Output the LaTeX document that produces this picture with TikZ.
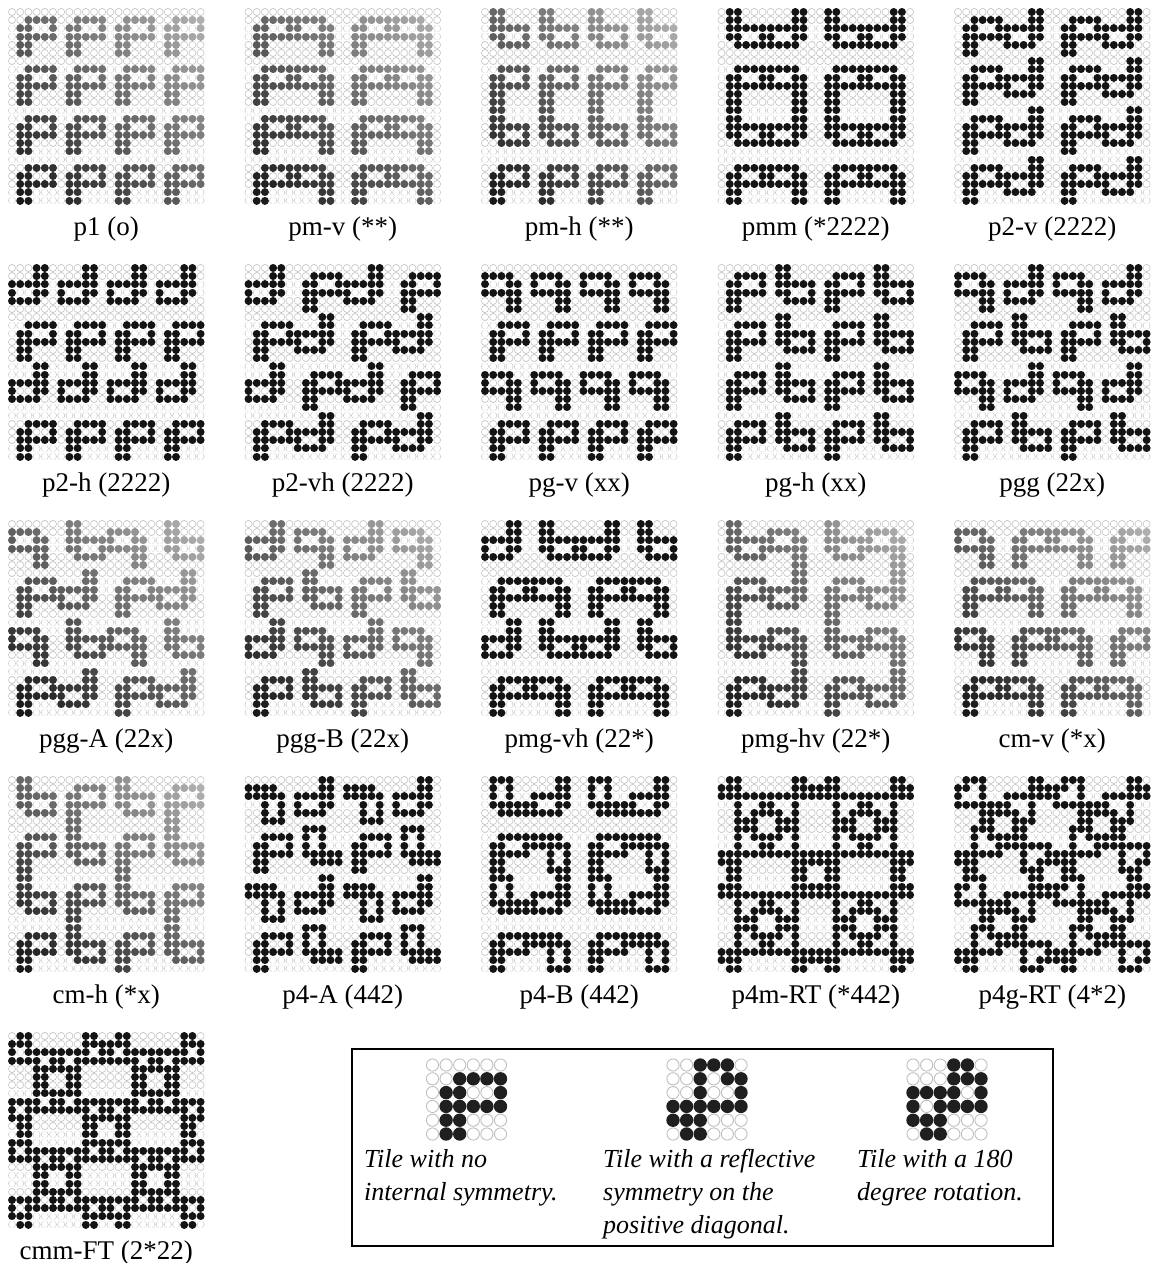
\documentclass[tikz,border=0pt]{standalone}
\usepackage{fontspec}
\setmainfont{Liberation Serif}

\tikzset{
  ringout/.style={line width=7.75pt, line cap=round, draw=black!22},
  ringin/.style={line width=6.25pt, line cap=round, draw=white},
  dotink/.style={line width=7.9pt, line cap=round},
  dotoff/.style={draw=black!25, line width=0.9pt, fill=white},
  paneltitle/.style={font=\fontsize{27}{30}\selectfont, anchor=center},
  legendtext/.style={font=\fontsize{26}{33}\selectfont\itshape, align=left, anchor=north west, inner sep=0pt},
}

% 6x6 tiles, row by row
\def\tileF{{0,0,0,0,0,0, 0,0,1,1,1,1, 0,1,1,0,0,1, 0,1,1,1,1,1, 0,1,1,0,0,0, 0,1,1,0,0,0}}
\def\tileR{{0,0,1,1,1,0, 0,0,1,0,1,1, 0,0,1,0,0,1, 1,1,1,1,1,1, 1,1,1,0,0,0, 0,1,1,0,0,0}}
\def\tileT{{0,0,0,1,1,0, 0,0,0,1,1,1, 1,1,1,1,0,1, 1,0,1,1,1,1, 1,1,1,0,0,0, 0,1,1,0,0,0}}

% where dot (i,j) of a placed tile comes from
% 0 id, 1 mirror lr, 2 mirror tb, 3 half turn, 4 quarter cw, 5 quarter ccw
\newcommand\tilesrc[3]{%
  \ifcase#1\relax
    \edef\si{#2}\edef\sj{#3}%
  \or \edef\si{#2}\edef\sj{\the\numexpr5-#3\relax}%
  \or \edef\si{\the\numexpr5-#2\relax}\edef\sj{#3}%
  \or \edef\si{\the\numexpr5-#2\relax}\edef\sj{\the\numexpr5-#3\relax}%
  \or \edef\si{\the\numexpr5-#3\relax}\edef\sj{#2}%
  \or \edef\si{#3}\edef\sj{\the\numexpr5-#2\relax}%
  \fi}

% #1 x, #2 y, #3 tile, #4 placement codes, #5 fading, #6 name, #7 label
\newcommand\wallpanel[7]{%
  % empty rings, one path per dot row
  \foreach \r in {0,...,23}{
    \draw[ringout] \foreach \c in {0,...,23}{({#1+8.2*\c},{#2+8.2*\r}) -- ++(0.01,0)};
    \draw[ringin] \foreach \c in {0,...,23}{({#1+8.2*\c},{#2+8.2*\r}) -- ++(0.01,0)};
  }
  % the tiles
  \foreach \tr in {0,...,3}{
    \foreach \tc in {0,...,3}{
      \pgfmathtruncatemacro\code{#4[4*\tr+\tc]}
      \foreach \i in {0,...,5}{
        \foreach \j in {0,...,5}{
          \tilesrc\code\i\j
          \pgfmathtruncatemacro\bit{#3[6*\si+\sj]}
          \ifnum\bit=1
            \pgfmathsetmacro\dx{#1+8.2*(6*\tc+\j)}
            \pgfmathsetmacro\dy{#2+8.2*(6*\tr+\i)}
            \pgfmathsetmacro\ink{92-#5*62*(6*\tc+\j+23-6*\tr-\i)/46}
            \draw[dotink, draw=black!\ink] (\dx,\dy) -- ++(0.01,0);
          \fi
        }
      }
    }
  }
  \node[paneltitle] (#6) at (#1+94.3,#2+217) {#7};
}

\newcommand\legendtile[3]{%
  \foreach \i in {0,...,5}{
    \foreach \j in {0,...,5}{
      \pgfmathtruncatemacro\bit{#3[6*\i+\j]}
      \ifnum\bit=1
        \fill[black!88] (#1+13.6*\j,#2+13.8*\i) circle (6.7pt);
      \else
        \draw[dotoff] (#1+13.6*\j,#2+13.8*\i) circle (6.1pt);
      \fi
    }
  }
}

\begin{document}
\begin{tikzpicture}[x=1pt,y=-1pt]
  \useasboundingbox (0,0) rectangle (1159,1263);

  % first row
  \wallpanel{12}{12}{\tileF}{{0,0,0,0, 0,0,0,0, 0,0,0,0, 0,0,0,0}}{1}{p1}{p1 (o)}
  \wallpanel{248.5}{12}{\tileF}{{0,1,0,1, 0,1,0,1, 0,1,0,1, 0,1,0,1}}{1}{pmv}{pm-v (**)}
  \wallpanel{485}{12}{\tileF}{{2,2,2,2, 0,0,0,0, 2,2,2,2, 0,0,0,0}}{1}{pmh}{pm-h (**)}
  \wallpanel{721.5}{12}{\tileF}{{2,3,2,3, 0,1,0,1, 2,3,2,3, 0,1,0,1}}{0}{pmm}{pmm (*2222)}
  \wallpanel{958}{12}{\tileF}{{0,3,0,3, 0,3,0,3, 0,3,0,3, 0,3,0,3}}{0}{p2v}{p2-v (2222)}

  % second row
  \wallpanel{12}{268}{\tileF}{{3,3,3,3, 0,0,0,0, 3,3,3,3, 0,0,0,0}}{0}{p2h}{p2-h (2222)}
  \wallpanel{248.5}{268}{\tileF}{{3,0,3,0, 0,3,0,3, 3,0,3,0, 0,3,0,3}}{0}{p2vh}{p2-vh (2222)}
  \wallpanel{485}{268}{\tileF}{{1,1,1,1, 0,0,0,0, 1,1,1,1, 0,0,0,0}}{0}{pgv}{pg-v (xx)}
  \wallpanel{721.5}{268}{\tileF}{{0,2,0,2, 0,2,0,2, 0,2,0,2, 0,2,0,2}}{0}{pgh}{pg-h (xx)}
  \wallpanel{958}{268}{\tileF}{{1,3,1,3, 0,2,0,2, 1,3,1,3, 0,2,0,2}}{0}{pgg}{pgg (22x)}

  % third row
  \wallpanel{12}{524}{\tileF}{{1,2,1,2, 0,3,0,3, 1,2,1,2, 0,3,0,3}}{1}{pgga}{pgg-A (22x)}
  \wallpanel{248.5}{524}{\tileF}{{3,1,3,1, 0,2,0,2, 3,1,3,1, 0,2,0,2}}{1}{pggb}{pgg-B (22x)}
  \wallpanel{485}{524}{\tileF}{{3,2,3,2, 0,1,0,1, 3,2,3,2, 0,1,0,1}}{0}{pmgvh}{pmg-vh (22*)}
  \wallpanel{721.5}{524}{\tileF}{{2,1,2,1, 0,3,0,3, 2,1,2,1, 0,3,0,3}}{1}{pmghv}{pmg-hv (22*)}
  \wallpanel{958}{524}{\tileF}{{1,0,1,0, 0,1,0,1, 1,0,1,0, 0,1,0,1}}{1}{cmv}{cm-v (*x)}

  % fourth row
  \wallpanel{12}{780}{\tileF}{{2,0,2,0, 0,2,0,2, 2,0,2,0, 0,2,0,2}}{1}{cmh}{cm-h (*x)}
  \wallpanel{248.5}{780}{\tileF}{{4,3,4,3, 0,5,0,5, 4,3,4,3, 0,5,0,5}}{0}{p4a}{p4-A (442)}
  \wallpanel{485}{780}{\tileF}{{5,3,5,3, 0,4,0,4, 5,3,5,3, 0,4,0,4}}{0}{p4b}{p4-B (442)}
  \wallpanel{721.5}{780}{\tileR}{{4,3,4,3, 0,5,0,5, 4,3,4,3, 0,5,0,5}}{0}{p4m}{p4m-RT (*442)}
  \wallpanel{958}{780}{\tileR}{{5,3,5,3, 0,4,0,4, 5,3,5,3, 0,4,0,4}}{0}{p4g}{p4g-RT (4*2)}

  % last row
  \wallpanel{12}{1036}{\tileT}{{1,0,1,0, 0,1,0,1, 1,0,1,0, 0,1,0,1}}{0}{cmm}{cmm-FT (2*22)}

  % legend
  \draw[line width=2pt] (352,1049) rectangle (1053,1246);
  \legendtile{432.5}{1065}{\tileF}
  \legendtile{673}{1065}{\tileR}
  \legendtile{913}{1065}{\tileT}
  \node[legendtext] (keyF) at (364,1149) {Tile with no\\internal symmetry.};
  \node[legendtext] (keyR) at (603,1149) {Tile with a reflective\\symmetry on the\\positive diagonal.};
  \node[legendtext] (keyT) at (857,1149) {Tile with a 180\\degree rotation.};
\end{tikzpicture}
\end{document}
